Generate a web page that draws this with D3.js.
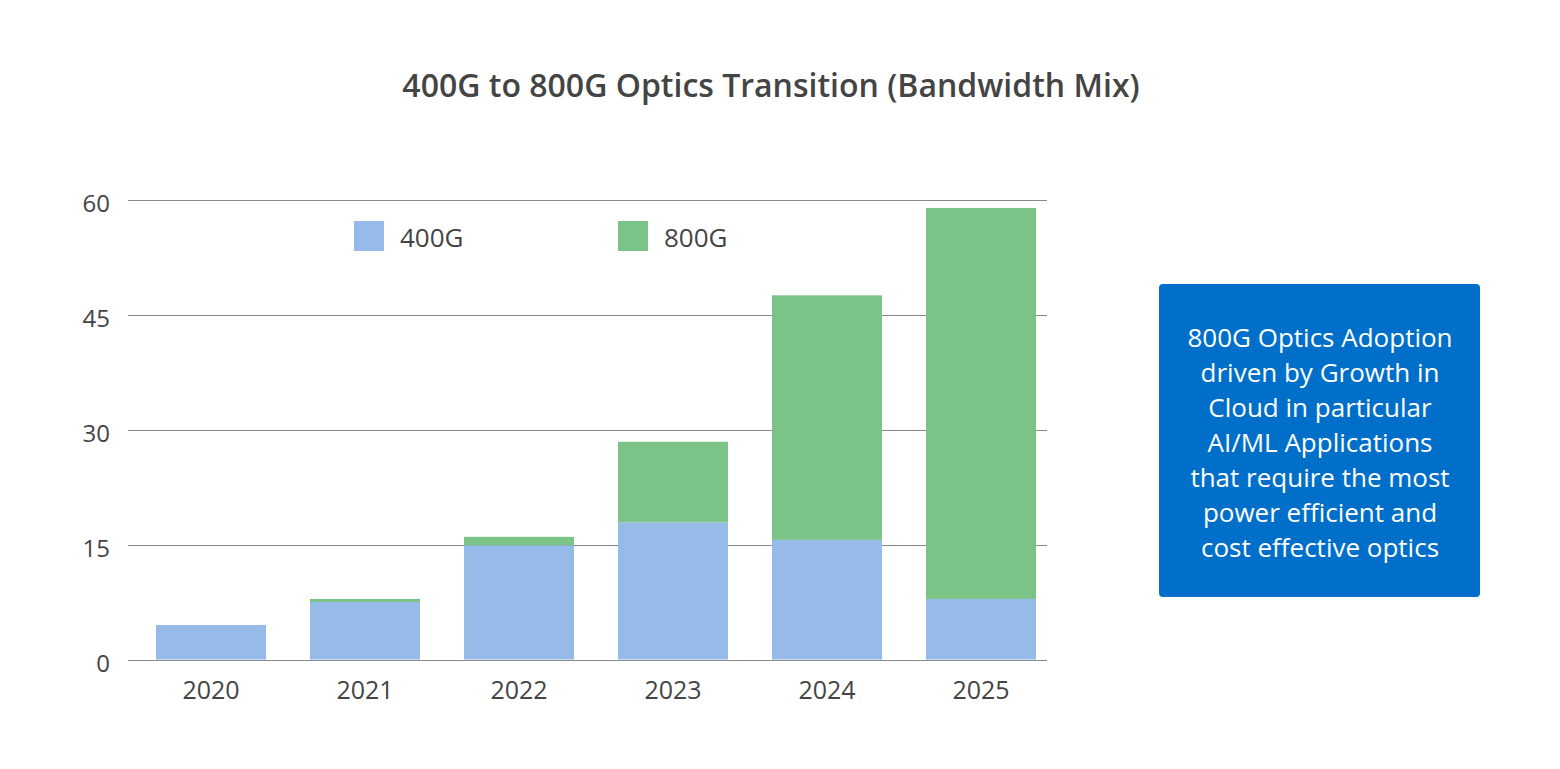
<!DOCTYPE html>
<html><head><meta charset="utf-8">
<script src="https://cdn.jsdelivr.net/npm/d3@7"></script>
<style>body{margin:0;background:#fff;} svg{display:block;font-family:"Open Sans",sans-serif;}</style>
</head><body>
<svg id="c" width="1560" height="769"></svg>
<script>
const years = ["2020","2021","2022","2023","2024","2025"];
const v400 = [4.5, 7.5, 14.9, 17.9, 15.6, 7.9];
const v800 = [0, 0.4, 1.1, 10.5, 31.9, 51.0];
const yTicks = [0, 15, 30, 45, 60];
const seriesNames = ["400G", "800G"];
const colors = ["#97bbe8", "#7bc387"];
const title = "400G to 800G Optics Transition (Bandwidth Mix)";
const noteLines = ["800G Optics Adoption","driven by Growth in","Cloud in particular","AI/ML Applications","that require the most","power efficient and","cost effective optics"];

const svg = d3.select("#c");
const x = d3.scaleBand().domain(years).range([134, 1058]).paddingInner(0.2857).paddingOuter(0.1429);
const y = d3.scaleLinear().domain([0, 60]).range([659.5, 199.5]);

svg.append("text").attr("x", 771).attr("y", 97).attr("text-anchor", "middle")
  .attr("font-size", 32).attr("font-weight", 600).attr("fill", "#444").text(title);

// grid
svg.append("g").selectAll("line").data(yTicks).join("line")
  .attr("x1", 128).attr("x2", 1047).attr("y1", d => Math.round(y(d)) + 0.5).attr("y2", d => Math.round(y(d)) + 0.5)
  .attr("stroke", "#888").attr("stroke-width", 1);
svg.append("g").selectAll("text").data(yTicks).join("text")
  .attr("x", 110).attr("y", d => y(d) + 12.5).attr("text-anchor", "end")
  .attr("font-size", 24).attr("fill", "#444").text(d => d);

// stacked bars
const rows = years.map((yr, i) => ({year: yr, "400G": v400[i], "800G": v800[i]}));
const stack = d3.stack().keys(seriesNames)(rows);
svg.append("g").selectAll("g").data(stack).join("g").attr("fill", (d, i) => colors[i])
  .selectAll("rect").data(d => d).join("rect")
  .attr("x", d => x(d.data.year)).attr("width", x.bandwidth())
  .attr("y", d => y(d[1])).attr("height", d => y(d[0]) - y(d[1]));

// baseline redraw
svg.append("line").attr("x1", 128).attr("x2", 1047).attr("y1", Math.round(y(0)) + 0.5).attr("y2", Math.round(y(0)) + 0.5)
  .attr("stroke", "#888");

// x labels
svg.append("g").selectAll("text").data(years).join("text")
  .attr("x", d => x(d) + x.bandwidth() / 2).attr("y", 699).attr("text-anchor", "middle")
  .attr("font-size", 25).attr("fill", "#444").text(d => d);

// legend
const legX = [354, 618];
const leg = svg.append("g").selectAll("g").data(seriesNames).join("g");
leg.append("rect").attr("x", (d, i) => legX[i]).attr("y", 221).attr("width", 30).attr("height", 30).attr("fill", (d, i) => colors[i]);
leg.append("text").attr("x", (d, i) => legX[i] + 46).attr("y", 247).attr("font-size", 26).attr("fill", "#444").text(d => d);

// note box
svg.append("rect").attr("x", 1159).attr("y", 284).attr("width", 321).attr("height", 313).attr("rx", 4).attr("fill", "#006fca");
svg.append("g").selectAll("text").data(noteLines).join("text")
  .attr("x", 1320).attr("y", (d, i) => 347 + i * 35).attr("text-anchor", "middle")
  .attr("font-size", 26).attr("fill", "#fff").text(d => d);
</script>
</body></html>
